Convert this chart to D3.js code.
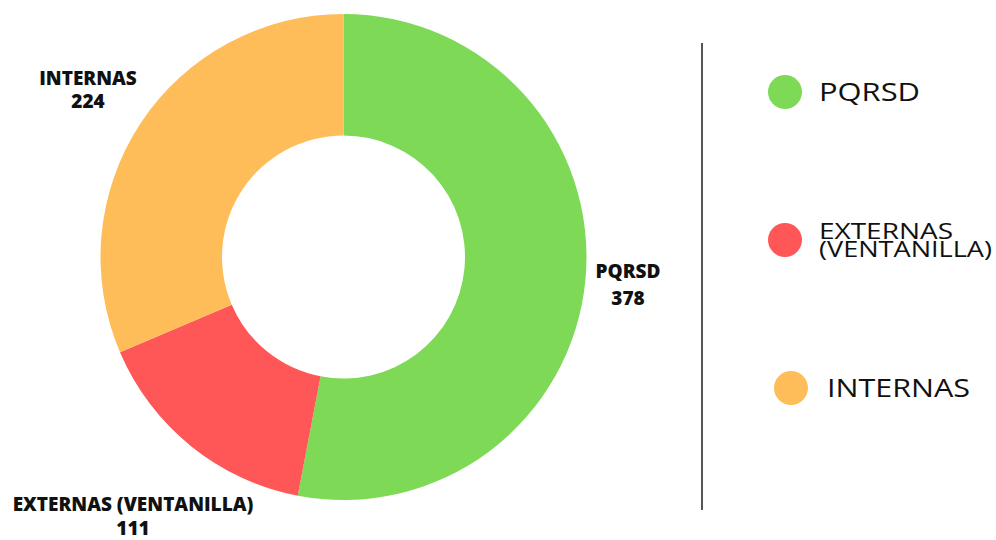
<!DOCTYPE html>
<meta charset="utf-8">
<script src="https://d3js.org/d3.v7.min.js"></script>
<style>
  body { margin: 0; background: #fff; }
</style>
<div id="my_dataviz"></div>
<script>

// data
var categories = ["PQRSD", "EXTERNAS (VENTANILLA)", "INTERNAS"];
var values = [378, 111, 224];
var legendLabels = [["PQRSD"], ["EXTERNAS", "(VENTANILLA)"], ["INTERNAS"]];
var colors = ["#7ed957", "#ff5757", "#ffbd59"];

var width = 996, height = 540;

var svg = d3.select("#my_dataviz")
  .append("svg")
    .attr("width", width)
    .attr("height", height);

// donut
var cx = 343.5, cy = 257, outerR = 243, innerR = 121.5;

var pie = d3.pie().sort(null).value(function(d) { return d; });
var arc = d3.arc().innerRadius(innerR).outerRadius(outerR);

var g = svg.append("g")
  .attr("transform", "translate(" + cx + "," + cy + ")");

g.selectAll("path")
  .data(pie(values))
  .enter().append("path")
    .attr("d", arc)
    .attr("fill", function(d, i) { return colors[i]; });

// slice labels (placed outside the ring)
var labelPos = [[628, 278], [133, 511], [88, 85]];
var lineGap = [27, 24, 23];

svg.selectAll("text.slice")
  .data(categories)
  .enter().append("text")
    .attr("class", "slice")
    .attr("x", function(d, i) { return labelPos[i][0]; })
    .attr("y", function(d, i) { return labelPos[i][1]; })
    .attr("text-anchor", "middle")
    .style("font-family", "'Open Sans', sans-serif")
    .style("font-weight", 800)
    .style("font-size", "19px")
    .attr("fill", "#111")
    .each(function(d, i) {
      var t = d3.select(this);
      t.append("tspan").attr("x", labelPos[i][0]).text(d);
      t.append("tspan").attr("x", labelPos[i][0]).attr("dy", lineGap[i]).text(values[i]);
    });

// divider
svg.append("line")
  .attr("x1", 702).attr("x2", 702)
  .attr("y1", 43).attr("y2", 510)
  .attr("stroke", "#555")
  .attr("stroke-width", 2);

// legend
var legendY = d3.scalePoint().domain(categories).range([92, 388]);
var legendDot = [785, 785, 791];
var legendText = [819, 819, 827];
var legendSize = [25, 21, 26];
var legendWidth = [[101], [134, 173], [143]];

var lg = svg.selectAll("g.legend")
  .data(categories)
  .enter().append("g")
    .attr("class", "legend");

lg.append("circle")
  .attr("cx", function(d, i) { return legendDot[i]; })
  .attr("cy", function(d) { return legendY(d); })
  .attr("r", 17)
  .attr("fill", function(d, i) { return colors[i]; });

lg.append("text")
  .attr("x", function(d, i) { return legendText[i]; })
  .attr("y", function(d, i) { return legendY(d) + (i === 1 ? -1 : legendSize[i] * 0.36); })
  .style("font-family", "'Open Sans', sans-serif")
  .style("font-size", function(d, i) { return legendSize[i] + "px"; })
  .attr("fill", "#111")
  .each(function(d, i) {
    var t = d3.select(this);
    legendLabels[i].forEach(function(s, k) {
      t.append("tspan")
        .attr("x", legendText[i])
        .attr("dy", k === 0 ? 0 : 18)
        .attr("textLength", legendWidth[i][k])
        .attr("lengthAdjust", "spacingAndGlyphs")
        .text(s);
    });
  });

</script>
